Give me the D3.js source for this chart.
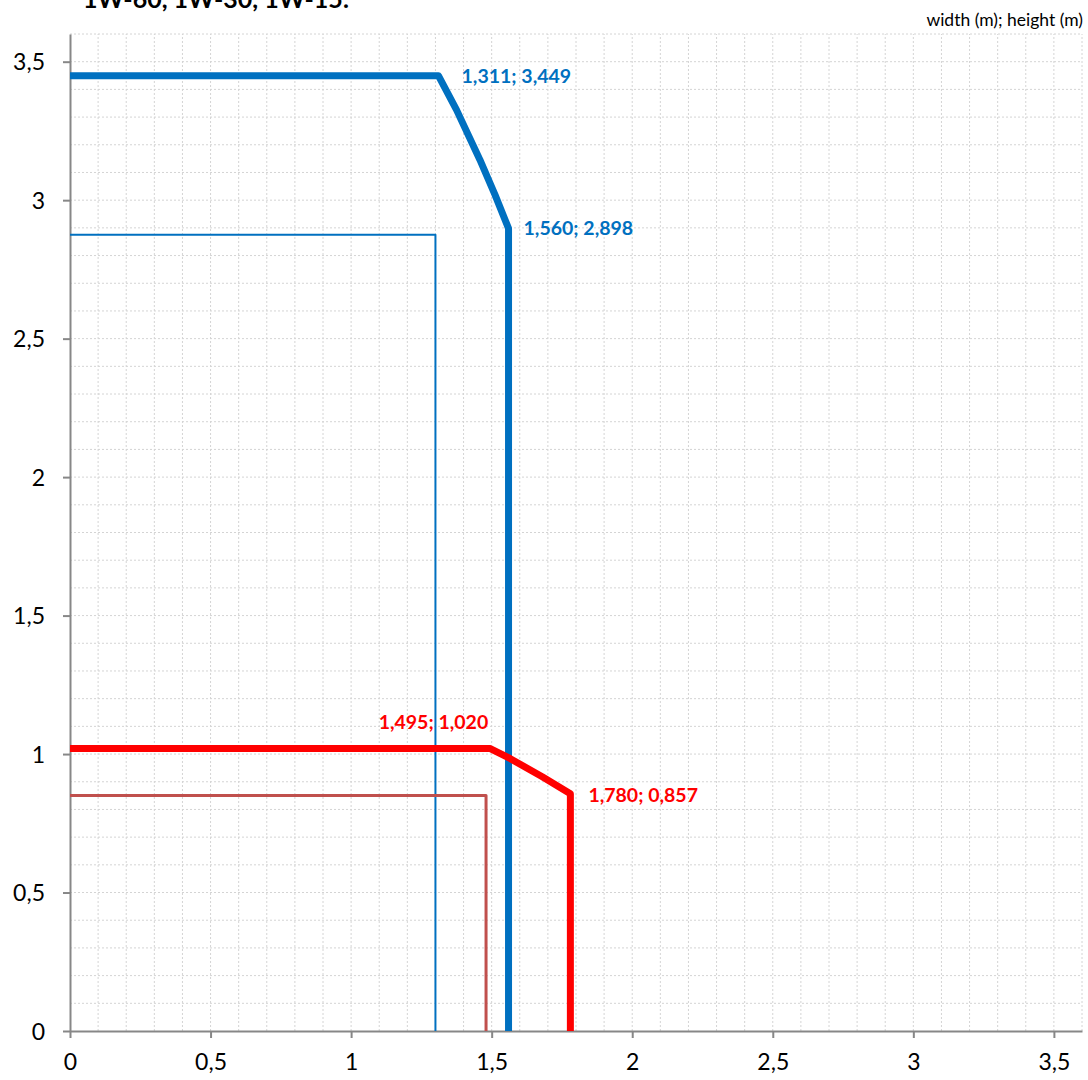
<!DOCTYPE html>
<html>
<head>
<meta charset="utf-8">
<script src="https://cdn.jsdelivr.net/npm/d3@7"></script>
<style>
  body { margin: 0; background: #fff; }
  svg { display: block; font-family: Lato, "Open Sans", sans-serif; }
</style>
</head>
<body>
<svg id="chart" width="1088" height="1080"></svg>
<script>
// data (width m ; height m)
const blueOuter = [[0, 3.449], [1.311, 3.449], [1.375, 3.326], [1.458, 3.146], [1.512, 3.019], [1.56, 2.898], [1.56, 0]];
const blueInner = [[0, 2.875], [1.3, 2.875], [1.3, 0]];
const redOuter = [[0, 1.02], [1.495, 1.02], [1.565, 0.984], [1.68, 0.918], [1.78, 0.857], [1.78, 0]];
const redInner = [[0, 0.85], [1.48, 0.85], [1.48, 0]];
const pointLabels = [
  { x: 1.311, y: 3.449, text: '1,311; 3,449', color: '#0070C0' },
  { x: 1.56, y: 2.898, text: '1,560; 2,898', color: '#0070C0' },
  { x: 1.495, y: 1.02, text: '1,495; 1,020', color: '#FF0000' },
  { x: 1.78, y: 0.857, text: '1,780; 0,857', color: '#FF0000' }
];
const majorTicks = [0, 0.5, 1, 1.5, 2, 2.5, 3, 3.5];
const minorTicks = d3.range(1, 37).map(i => i / 10);
const titleText = '1W-60, 1W-30, 1W-15:';
const unitText = 'width (m); height (m)';

const svg = d3.select('#chart');
const margin = { left: 70, right: 6, top: 34, bottom: 49 };
const width = 1088, height = 1080;

const x = d3.scaleLinear().domain([0, 3.6]).range([margin.left, width - margin.right]);
const y = d3.scaleLinear().domain([0, 3.6]).range([height - margin.bottom, margin.top]);

// minor grid
const grid = svg.append('g')
  .attr('stroke', '#d4d4d4')
  .attr('stroke-width', 1)
  .attr('stroke-dasharray', '2,2');
grid.selectAll('line.gx').data(minorTicks).enter().append('line')
  .attr('x1', d => x(d)).attr('x2', d => x(d))
  .attr('y1', y(0)).attr('y2', y(3.6));
grid.selectAll('line.gy').data(minorTicks).enter().append('line')
  .attr('y1', d => y(d)).attr('y2', d => y(d))
  .attr('x1', x(0)).attr('x2', x(3.6));

// axes
const fmt = d => d3.format('.1~f')(d).replace('.', ',');
const xAxis = d3.axisBottom(x).tickValues(majorTicks).tickFormat(fmt).tickSizeInner(7).tickSizeOuter(0).tickPadding(16);
const yAxis = d3.axisLeft(y).tickValues(majorTicks).tickFormat(fmt).tickSizeInner(7).tickSizeOuter(0).tickPadding(18);

const gx = svg.append('g').attr('transform', `translate(0,${y(0)})`).call(xAxis);
const gy = svg.append('g').attr('transform', `translate(${x(0)},0)`).call(yAxis);
[gx, gy].forEach(g => {
  g.select('.domain').attr('stroke', '#878787').attr('stroke-width', 2);
  g.selectAll('.tick line').attr('stroke', '#878787').attr('stroke-width', 2);
  g.selectAll('.tick text').attr('fill', '#000').style('font-size', '23px').style('font-family', 'Lato, "Open Sans", sans-serif');
});
gy.selectAll('.tick text').attr('dy', '0.36em');

// lines
const line = d3.line().x(d => x(d[0])).y(d => y(d[1]));
const lines = [
  { data: blueInner, color: '#0070C0', w: 2 },
  { data: redInner, color: '#C0504D', w: 3 },
  { data: blueOuter, color: '#0070C0', w: 7 },
  { data: redOuter, color: '#FF0000', w: 7 }
];
svg.append('g').selectAll('path').data(lines).enter().append('path')
  .attr('d', d => line(d.data))
  .attr('fill', 'none')
  .attr('stroke', d => d.color)
  .attr('stroke-width', d => d.w)
  .attr('stroke-linejoin', 'round');

// point labels
const labelPos = [
  { dx: 23, dy: 7, anchor: 'start' },
  { dx: 15, dy: 7, anchor: 'start' },
  { dx: -2, dy: -20, anchor: 'end' },
  { dx: 18, dy: 8, anchor: 'start' }
];
svg.append('g').selectAll('text').data(pointLabels).enter().append('text')
  .attr('x', (d, i) => x(d.x) + labelPos[i].dx)
  .attr('y', (d, i) => y(d.y) + labelPos[i].dy)
  .attr('text-anchor', (d, i) => labelPos[i].anchor)
  .attr('fill', d => d.color)
  .style('font-size', '19.5px')
  .style('font-weight', 'bold')
  .text(d => d.text);

// title (cut off at top) and units
svg.append('text')
  .attr('x', 83).attr('y', 8)
  .style('font-size', '25px').style('font-weight', 'bold')
  .text(titleText);
svg.append('text')
  .attr('x', 1083).attr('y', 26)
  .attr('text-anchor', 'end')
  .style('font-size', '17.5px')
  .text(unitText);
</script>
</body>
</html>
